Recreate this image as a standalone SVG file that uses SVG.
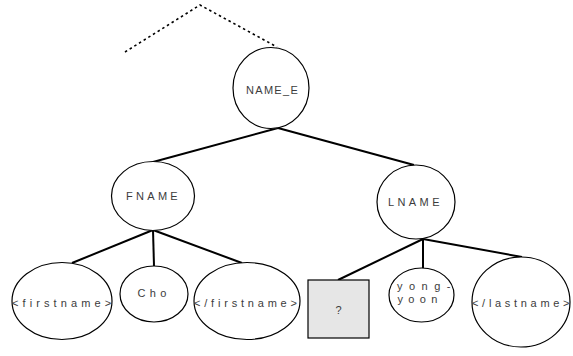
<svg xmlns="http://www.w3.org/2000/svg" width="573" height="356" viewBox="0 0 573 356">
<style>
.n{fill:#fff;stroke:#000;stroke-width:1.2}
.t{font-family:"Liberation Sans",Arial,sans-serif;font-size:11px;fill:#3c3c3c}
.c{stroke:#000;stroke-width:2;fill:none}
.d{stroke:#000;stroke-width:1.6;fill:none;stroke-dasharray:2.5,3}
</style>
<rect width="573" height="356" fill="#fff"/>
<g id="connectors">
<polyline class="d" points="125,52 200,5 277,47"/>
<line class="c" x1="278" y1="128" x2="153" y2="162"/>
<line class="c" x1="278" y1="128" x2="414" y2="165"/>
<line class="c" x1="153" y1="230" x2="72" y2="263"/>
<line class="c" x1="153" y1="230" x2="154" y2="266"/>
<line class="c" x1="153" y1="230" x2="242" y2="263"/>
<line class="c" x1="423" y1="239" x2="338" y2="280"/>
<line class="c" x1="423" y1="239" x2="423" y2="268"/>
<line class="c" x1="423" y1="239" x2="522" y2="257"/>
</g>
<g id="NAME_E">
<ellipse class="n" cx="271" cy="88" rx="38" ry="40.5"/>
<text class="t" x="246" y="94" letter-spacing="1.3">NAME_E</text>
</g>
<g id="FNAME">
<ellipse class="n" cx="153" cy="196" rx="41.5" ry="34.5"/>
<text class="t" x="126" y="200" letter-spacing="3.3">FNAME</text>
</g>
<g id="LNAME">
<ellipse class="n" cx="416" cy="202" rx="39" ry="37"/>
<text class="t" x="388" y="206" letter-spacing="3.4">LNAME</text>
</g>
<g id="firstname_open">
<ellipse class="n" cx="62" cy="301" rx="50" ry="38.5"/>
<text class="t" x="12" y="307" letter-spacing="4.1">&lt;firstname&gt;</text>
</g>
<g id="Cho">
<ellipse class="n" cx="154" cy="294" rx="34" ry="28"/>
<text class="t" x="137.5" y="297" letter-spacing="4.4">Cho</text>
</g>
<g id="firstname_close">
<ellipse class="n" cx="247" cy="301" rx="53" ry="38.5"/>
<text class="t" x="194" y="307" letter-spacing="3.8">&lt;/firstname&gt;</text>
</g>
<g id="unknown">
<rect x="308" y="280" width="61" height="58" fill="#e6e6e6" stroke="#000" stroke-width="1.2"/>
<text class="t" x="338.5" y="314" text-anchor="middle">?</text>
</g>
<g id="yongyoon">
<ellipse class="n" cx="421.5" cy="295" rx="32.5" ry="27"/>
<text class="t" x="397" y="290" letter-spacing="6.5">yong-</text>
<text class="t" x="397.5" y="303" letter-spacing="5.3">yoon</text>
</g>
<g id="lastname_close">
<ellipse class="n" cx="521" cy="302" rx="49" ry="45"/>
<text class="t" x="472" y="307" letter-spacing="3.7">&lt;/lastname&gt;</text>
</g>
</svg>
